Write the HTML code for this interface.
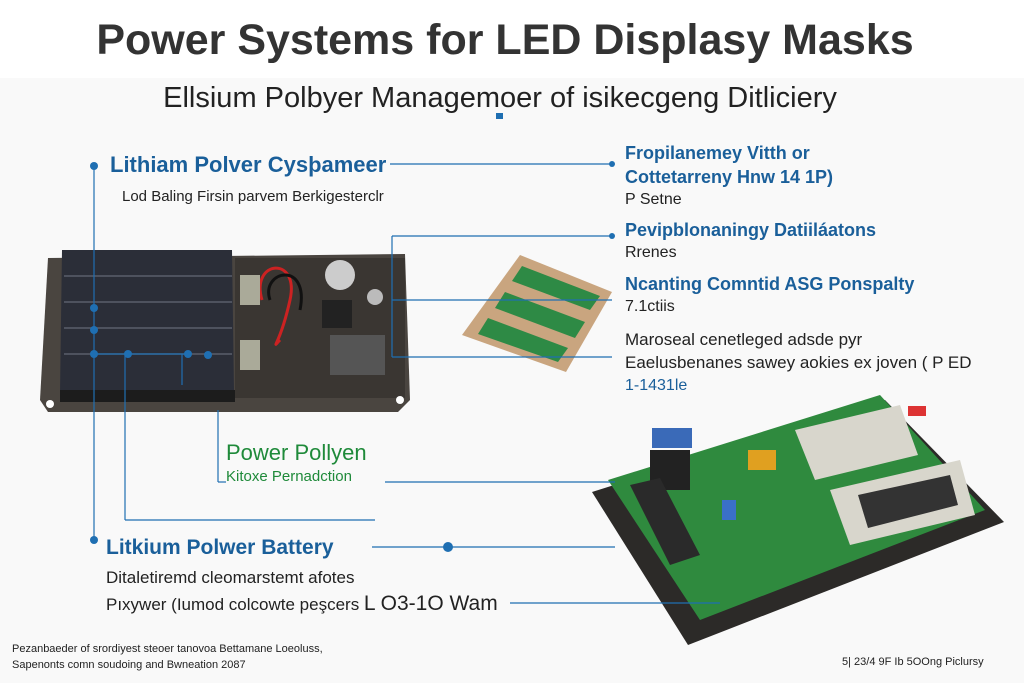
<!DOCTYPE html>
<html><head><meta charset="utf-8"><style>
body{margin:0;width:1024px;height:683px;overflow:hidden;background:#f9f9f9;font-family:"Liberation Sans",sans-serif}
svg{position:absolute;left:0;top:0}
.t{position:absolute;white-space:nowrap}
</style></head><body>
<svg width="1024" height="683">
<rect x="0" y="0" width="1024" height="78" fill="#ffffff"/>
<!-- left board -->
<polygon points="48,258 405,254 410,400 398,412 48,412 40,400" fill="#4a4540"/>
<polygon points="62,250 232,250 234,392 60,394" fill="#2b2e38"/>
<g stroke="#5a5e6a" stroke-width="1.5"><line x1="64" y1="276" x2="232" y2="276"/><line x1="64" y1="302" x2="232" y2="302"/><line x1="64" y1="328" x2="232" y2="328"/><line x1="64" y1="354" x2="232" y2="354"/></g>
<rect x="60" y="390" width="175" height="12" fill="#1c1c1c"/>
<rect x="235" y="258" width="170" height="140" fill="#3a3632"/>
<path d="M262 300 C250 260,300 255,290 300 S270 350,280 340" stroke="#c22" stroke-width="3" fill="none"/>
<path d="M270 300 C260 270,310 260,300 310" stroke="#111" stroke-width="3" fill="none"/>
<circle cx="340" cy="275" r="15" fill="#ccc"/><circle cx="375" cy="297" r="8" fill="#bbb"/>
<rect x="322" y="300" width="30" height="28" fill="#222"/>
<rect x="330" y="335" width="55" height="40" fill="#555"/>
<rect x="240" y="275" width="20" height="30" fill="#aa9"/><rect x="240" y="340" width="20" height="30" fill="#aa9"/>
<circle cx="50" cy="404" r="4" fill="#fff"/><circle cx="400" cy="400" r="4" fill="#fff"/>
<!-- mid pcb -->
<polygon points="520,255 612,292 566,372 462,335" fill="#c9a57f"/>
<polygon points="522,266 600,296 590,310 512,281" fill="#2e8a45"/>
<polygon points="505,292 585,322 575,338 495,308" fill="#2e8a45"/>
<polygon points="488,318 568,348 558,362 478,334" fill="#2e8a45"/>
<!-- right board -->
<polygon points="592,492 885,400 1004,522 688,645" fill="#2c2a28"/>
<polygon points="608,480 880,395 985,510 700,620" fill="#2f8a3e"/>
<polygon points="795,430 900,405 918,455 815,480" fill="#d8d6cc"/>
<polygon points="830,490 960,460 975,515 850,545" fill="#d8d6cc"/>
<polygon points="858,495 950,475 958,505 868,528" fill="#333"/>
<rect x="650" y="450" width="40" height="40" fill="#222"/>
<rect x="652" y="428" width="40" height="20" fill="#3a6ab8"/>
<polygon points="630,485 660,478 700,555 670,565" fill="#2a2a2a"/>
<rect x="748" y="450" width="28" height="20" fill="#e0a020"/>
<rect x="722" y="500" width="14" height="20" fill="#3a70c8"/>
<rect x="908" y="406" width="18" height="10" fill="#d33"/>
<!-- connectors -->
<g stroke="#1f6fb2" stroke-width="1.2" fill="none">
<line x1="94" y1="166" x2="94" y2="540"/>
<line x1="390" y1="164" x2="612" y2="164"/>
<line x1="392" y1="236" x2="612" y2="236"/>
<line x1="392" y1="236" x2="392" y2="357"/>
<line x1="392" y1="300" x2="612" y2="300"/>
<line x1="392" y1="357" x2="612" y2="357"/>
<line x1="94" y1="354" x2="185" y2="354"/>
<line x1="125" y1="354" x2="125" y2="520"/><line x1="125" y1="520" x2="375" y2="520"/>
<line x1="182" y1="354" x2="182" y2="385"/>
<line x1="218" y1="410" x2="218" y2="482"/><line x1="218" y1="482" x2="226" y2="482"/>
<line x1="385" y1="482" x2="615" y2="482"/>
<line x1="372" y1="547" x2="615" y2="547"/>
<line x1="510" y1="603" x2="720" y2="603"/>
</g>
<g fill="#1f6fb2"><circle cx="94" cy="166" r="4"/><circle cx="94" cy="308" r="4"/><circle cx="94" cy="330" r="4"/><circle cx="94" cy="354" r="4"/><circle cx="128" cy="354" r="4"/><circle cx="188" cy="354" r="4"/><circle cx="208" cy="355" r="4"/><circle cx="94" cy="540" r="4"/><circle cx="448" cy="547" r="5"/><circle cx="612" cy="164" r="3"/><circle cx="612" cy="236" r="3"/><rect x="496" y="113" width="7" height="6"/></g>
</svg>
<div class="t" style="left:0;width:1010px;text-align:center;top:16px;font-size:43px;font-weight:bold;color:#333">Power Systems for LED Displasy Masks</div>
<div class="t" style="left:0;width:1000px;text-align:center;top:82px;font-size:29px;color:#222">Ellsium Polbyer Managemoer of isikecgeng Ditliciery</div>
<div class="t" style="left:110px;top:152px;font-size:22px;font-weight:bold;color:#1a5f9a">Lithiam Polver Cysþameer</div>
<div class="t" style="left:122px;top:188px;font-size:15px;color:#222">Lod Baling Firsin parvem Berkigesterclr</div>
<div class="t" style="left:625px;top:143px;font-size:18px;font-weight:bold;color:#1a5f9a">Fropilanemey Vitth or</div>
<div class="t" style="left:625px;top:167px;font-size:18px;font-weight:bold;color:#1a5f9a">Cottetarreny Hnw 14 1P)</div>
<div class="t" style="left:625px;top:191px;font-size:16px;color:#222">P Setne</div>
<div class="t" style="left:625px;top:220px;font-size:18px;font-weight:bold;color:#1a5f9a">Pevipblonaningy Datiiláatons</div>
<div class="t" style="left:625px;top:244px;font-size:16px;color:#222">Rrenes</div>
<div class="t" style="left:625px;top:274px;font-size:18px;font-weight:bold;color:#1a5f9a">Ncanting Comntid ASG Ponspalty</div>
<div class="t" style="left:625px;top:298px;font-size:16px;color:#222">7.1ctiis</div>
<div class="t" style="left:625px;top:330px;font-size:17px;color:#222">Maroseal cenetleged adsde pyr</div>
<div class="t" style="left:625px;top:353px;font-size:17px;color:#222">Eaelusbenanes sawey aokies ex joven ( P ED</div>
<div class="t" style="left:625px;top:377px;font-size:16px;color:#1a5f9a">1-1431le</div>
<div class="t" style="left:226px;top:440px;font-size:22px;color:#1f8a3a">Power Pollyen</div>
<div class="t" style="left:226px;top:468px;font-size:15px;color:#1f8a3a">Kitoxe Pernadction</div>
<div class="t" style="left:106px;top:536px;font-size:21px;font-weight:bold;color:#1a5f9a">Litkium Polwer Battery</div>
<div class="t" style="left:106px;top:568px;font-size:17px;color:#222">Ditaletiremd cleomarstemt afotes</div>
<div class="t" style="left:106px;top:592px;font-size:17px;color:#222">Pıxywer (Iumod colcowte peşcers <span style="font-size:21px">L O3-1O Wam</span></div>
<div class="t" style="left:12px;top:643px;font-size:11px;color:#222">Pezanbaeder of srordiyest steoer tanovoa Bettamane Loeoluss,</div>
<div class="t" style="left:12px;top:659px;font-size:11px;color:#222">Sapenonts comn soudoing and Bwneation 2087</div>
<div class="t" style="left:842px;top:656px;font-size:11px;color:#222">5| 23/4 9F Ib 5OOng Piclursy</div>
</body></html>
